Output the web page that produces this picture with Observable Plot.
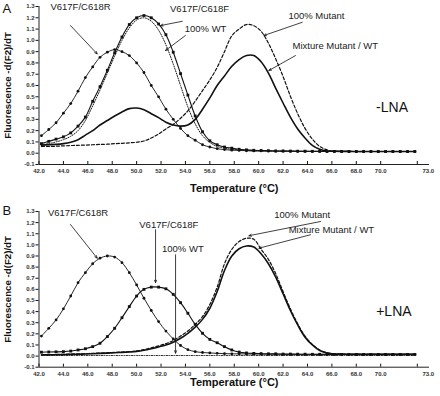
<!DOCTYPE html>
<html><head><meta charset="utf-8">
<script src="https://cdn.jsdelivr.net/npm/d3@7"></script>
<script src="https://cdn.jsdelivr.net/npm/@observablehq/plot@0.6"></script>
<style>
body{margin:0;background:#fff;}
#chart svg{display:block;}
</style></head><body><div id="chart"></div>
<script>
// shared temperature grid (°C)
const temps = [42.2,42.8,43.4,44.0,44.6,45.2,45.8,46.4,47.0,47.6,48.2,48.8,49.4,50.0,50.6,51.2,51.8,52.4,53.0,53.6,54.2,54.8,55.4,56.0,56.6,57.2,57.8,58.4,59.0,59.6,60.2,60.8,61.4,62.0,62.6,63.2,63.8,64.4,65.0,65.6,66.2,66.8,67.4,68.0,68.6,69.2,69.8,70.4,71.0,71.6,72.2,72.8];

const xTickValues = [42,44,46,48,50,52,54,56,58,60,62,64,66,68,70];
const xEndTick = [73];
const yTickValues = [-0.1,0.0,0.1,0.2,0.3,0.4,0.5,0.6,0.7,0.8,0.9,1.0,1.1,1.2,1.3];
const xDomain = [42, 74];
const yDomain = [-0.1, 1.3];
const xTitle = "Temperature (°C)";
const yTitle = "Fluorescence -d(F2)/dT";
const panelLetters = ["A", "B"];
const panelTags = ["-LNA", "+LNA"];

// Panel A (-LNA)
const aR = [0.155,0.21,0.27,0.355,0.44,0.55,0.67,0.765,0.85,0.895,0.918,0.90,0.865,0.80,0.715,0.60,0.50,0.39,0.30,0.22,0.155,0.115,0.075,0.055,0.04,0.032,0.027,0.025,0.022,0.02,0.02,0.019,0.018,0.018,0.017,0.017,0.016,0.016,0.016,0.015,0.015,0.015,0.015,0.015,0.015,0.015,0.015,0.015,0.015,0.015,0.015,0.015];
const aF = [0.085,0.105,0.125,0.145,0.18,0.24,0.32,0.46,0.59,0.735,0.89,1.03,1.14,1.20,1.22,1.20,1.145,1.05,0.895,0.705,0.515,0.33,0.19,0.11,0.075,0.055,0.045,0.035,0.03,0.026,0.024,0.022,0.02,0.02,0.019,0.018,0.018,0.017,0.017,0.016,0.016,0.016,0.015,0.015,0.015,0.015,0.015,0.015,0.015,0.015,0.015,0.015];
const aWT = [0.075,0.085,0.10,0.12,0.15,0.20,0.29,0.42,0.56,0.71,0.86,1.0,1.11,1.18,1.20,1.17,1.09,0.96,0.79,0.60,0.41,0.26,0.155,0.095,0.06,0.045,0.035,0.03,0.025,0.022,0.02,0.02,0.019,0.018,0.018,0.017,0.017,0.016,0.016,0.016,0.015,0.015,0.015,0.015,0.015,0.015,0.015,0.015,0.015,0.015,0.015,0.015];
const aMut = [0.06,0.06,0.062,0.065,0.068,0.07,0.072,0.075,0.078,0.08,0.085,0.088,0.092,0.097,0.108,0.135,0.17,0.215,0.255,0.31,0.375,0.46,0.555,0.65,0.76,0.90,1.04,1.10,1.14,1.13,1.08,0.975,0.835,0.68,0.505,0.35,0.22,0.125,0.06,0.03,0.018,0.016,0.016,0.015,0.015,0.015,0.015,0.015,0.015,0.015,0.015,0.015];
const aMix = [0.072,0.075,0.078,0.085,0.098,0.12,0.16,0.20,0.25,0.29,0.33,0.365,0.395,0.40,0.385,0.35,0.315,0.275,0.25,0.24,0.25,0.30,0.39,0.49,0.60,0.685,0.77,0.83,0.865,0.865,0.81,0.71,0.575,0.445,0.32,0.215,0.135,0.07,0.035,0.02,0.017,0.016,0.016,0.015,0.015,0.015,0.015,0.015,0.015,0.015,0.015,0.015];

// Panel B (+LNA)
const bR = [0.18,0.25,0.325,0.425,0.54,0.66,0.75,0.83,0.88,0.90,0.89,0.84,0.75,0.64,0.52,0.41,0.31,0.225,0.155,0.095,0.058,0.04,0.032,0.028,0.025,0.022,0.02,0.02,0.019,0.018,0.018,0.017,0.017,0.016,0.016,0.016,0.015,0.015,0.015,0.015,0.015,0.015,0.015,0.015,0.015,0.015,0.015,0.015,0.015,0.015,0.015,0.015];
const bF = [0.035,0.037,0.038,0.04,0.045,0.055,0.066,0.085,0.115,0.175,0.25,0.345,0.445,0.54,0.60,0.62,0.62,0.605,0.555,0.48,0.385,0.285,0.205,0.15,0.12,0.085,0.055,0.036,0.028,0.024,0.022,0.02,0.02,0.018,0.018,0.017,0.017,0.016,0.016,0.016,0.015,0.015,0.015,0.015,0.015,0.015,0.015,0.015,0.015,0.015,0.015,0.015];
const bWT = [0.006,0.006,0.005,0.005,0.005,0.005,0.005,0.005,0.005,0.005,0.005,0.005,0.005,0.005,0.005,0.005,0.005,0.005,0.005,0.005,0.005,0.005,0.005,0.005,0.005,0.005,0.005,0.005,0.005,0.005,0.005,0.005,0.005,0.005,0.005,0.005,0.005,0.005,0.005,0.005,0.005,0.005,0.005,0.005,0.005,0.005,0.005,0.005,0.005,0.005,0.005,0.005];
const bMut = [0.012,0.013,0.014,0.016,0.018,0.02,0.022,0.025,0.027,0.03,0.033,0.036,0.04,0.046,0.058,0.074,0.092,0.112,0.14,0.18,0.225,0.285,0.355,0.465,0.62,0.83,0.96,1.03,1.06,1.05,0.96,0.87,0.74,0.58,0.425,0.29,0.18,0.105,0.055,0.03,0.02,0.018,0.016,0.016,0.015,0.015,0.015,0.015,0.015,0.015,0.015,0.015];
const bMix = [0.01,0.011,0.012,0.013,0.015,0.017,0.019,0.021,0.024,0.027,0.03,0.033,0.037,0.042,0.052,0.066,0.082,0.10,0.125,0.16,0.205,0.26,0.33,0.43,0.58,0.77,0.90,0.965,0.99,0.98,0.92,0.83,0.71,0.56,0.41,0.28,0.17,0.10,0.05,0.028,0.019,0.017,0.016,0.015,0.015,0.015,0.015,0.015,0.015,0.015,0.015,0.015];

// annotations (label position and arrow in data units)
const annotA = [
  {label: "V617F/C618R", tx: 45.40, ty: 1.293, x1: 44.58, y1: 1.131, x2: 46.77, y2: 0.880},
  {label: "V617F/C618F", tx: 55.16, ty: 1.279, x1: 53.74, y1: 1.169, x2: 51.96, y2: 1.131},
  {label: "100% WT", tx: 55.65, ty: 1.102, x1: 54.0, y1: 1.043, x2: 52.37, y2: 0.91},
  {label: "100% Mutant", tx: 64.73, ty: 1.22, x1: 63.57, y1: 1.16, x2: 60.43, y2: 1.043},
  {label: "Mixture Mutant / WT", tx: 66.28, ty: 0.954, x1: 63.02, y1: 0.865, x2: 60.84, y2: 0.733}
];
const annotB = [
  {label: "V617F/C618R", tx: 45.2, ty: 1.284, x1: 44.58, y1: 1.183, x2: 46.77, y2: 0.88},
  {label: "V617F/C618F", tx: 52.64, ty: 1.177, x1: 51.55, y1: 1.136, x2: 51.55, y2: 0.66},
  {label: "100% WT", tx: 53.79, ty: 0.959, x1: 53.19, y1: 0.911, x2: 53.19, y2: 0.026},
  {label: "100% Mutant", tx: 63.57, ty: 1.273, x1: 65.07, y1: 1.21, x2: 59.2, y2: 1.082},
  {label: "Mixture Mutant / WT", tx: 65.96, ty: 1.136, x1: 64.25, y1: 1.091, x2: 60.02, y2: 0.97}
];
const tagPos = [{x: 70.93, y: 0.407}, {x: 71.08, y: 0.401}];

const rows = (vals) => temps.map((t, i) => ({t, v: vals[i]}));
const fmt = d => d.toFixed(1);
const ink = "#111";

function panel({series, annot, letter, tag, tagXY, height, marginTop, marginBottom, letterDy, titleDy, labelPad}) {
  const [R, F, WT, Mut, Mix] = series.map(rows);
  return Plot.plot({
    width: 440, height, marginLeft: 38.5, marginRight: 11, marginTop, marginBottom,
    style: {fontFamily: "Liberation Sans, Arial, sans-serif", background: "white", color: ink},
    x: {domain: xDomain},
    y: {domain: yDomain},
    marks: [
      // axis lines
      Plot.ruleY([yDomain[0]], {stroke: "#222", strokeWidth: 1}),
      Plot.ruleX([xDomain[0]], {y1: yDomain[0], y2: yDomain[1], stroke: "#222", strokeWidth: 1}),
      Plot.axisY({ticks: yTickValues, tickFormat: fmt, tickSize: 3, tickPadding: 1.5, fontSize: 6, fontWeight: "bold", fill: "#333", label: null}),
      Plot.axisX({ticks: [...xTickValues, ...xEndTick], tickSize: 3, dy: -3, tickFormat: () => "", label: null}),
      Plot.axisX({ticks: xTickValues, tickSize: 0, tickPadding: labelPad, tickFormat: fmt, fontSize: 6, fontWeight: "bold", fill: "#333", label: null}),
      Plot.axisX({ticks: xEndTick, tickSize: 0, tickPadding: labelPad, dx: 11, tickFormat: fmt, fontSize: 6, fontWeight: "bold", fill: "#333", label: null}),
      // titles
      Plot.text([yTitle], {frameAnchor: "left", rotate: -90, dx: -28.5, lineAnchor: "bottom", textAnchor: "middle", fontSize: 9.7, fontWeight: "bold", fill: ink}),
      Plot.text([xTitle], {frameAnchor: "bottom", dy: titleDy, lineAnchor: "bottom", textAnchor: "middle", fontSize: 11, fontWeight: "bold", fill: ink}),
      Plot.text([letter], {frameAnchor: "top-left", dx: -36.5, dy: letterDy, lineAnchor: "bottom", textAnchor: "start", fontSize: 13, fill: ink}),
      // curves
      Plot.line(Mut, {x: "t", y: "v", curve: "catmull-rom", stroke: ink, strokeWidth: 1.2, strokeDasharray: "3,2"}),
      Plot.line(Mix, {x: "t", y: "v", curve: "catmull-rom", stroke: ink, strokeWidth: 1.6}),
      Plot.line(WT, {x: "t", y: "v", curve: "catmull-rom", stroke: ink, strokeWidth: 1, strokeDasharray: "1,1.5"}),
      Plot.line(R, {x: "t", y: "v", curve: "catmull-rom", stroke: ink, strokeWidth: 0.9}),
      Plot.dot(R, {x: "t", y: "v", r: 1.4, fill: ink, stroke: null}),
      Plot.line(F, {x: "t", y: "v", curve: "catmull-rom", stroke: ink, strokeWidth: 1.1}),
      Plot.dot(F, {x: "t", y: "v", r: 1.6, symbol: "square", fill: ink, stroke: null}),
      // annotations
      Plot.arrow(annot, {x1: "x1", y1: "y1", x2: "x2", y2: "y2", stroke: ink, strokeWidth: 0.8, headLength: 5, headAngle: 45}),
      Plot.text(annot, {x: "tx", y: "ty", text: "label", fontSize: 9.5, fill: "#222", textAnchor: "middle", lineAnchor: "middle"}),
      Plot.text([tag], {x: () => tagXY.x, y: () => tagXY.y, fontSize: 14, fill: ink, textAnchor: "middle", lineAnchor: "middle"})
    ]
  });
}

const chart = document.getElementById("chart");
chart.append(panel({
  series: [aR, aF, aWT, aMut, aMix], annot: annotA, letter: panelLetters[0], tag: panelTags[0], tagXY: tagPos[0],
  height: 196, marginTop: 6, marginBottom: 32, letterDy: 6, titleDy: 27, labelPad: 4.5
}));
chart.append(panel({
  series: [bR, bF, bWT, bMut, bMix], annot: annotB, letter: panelLetters[1], tag: panelTags[1], tagXY: tagPos[1],
  height: 200, marginTop: 15, marginBottom: 29.3, letterDy: 3, titleDy: 18.5, labelPad: 4.5
}));
</script></body></html>
